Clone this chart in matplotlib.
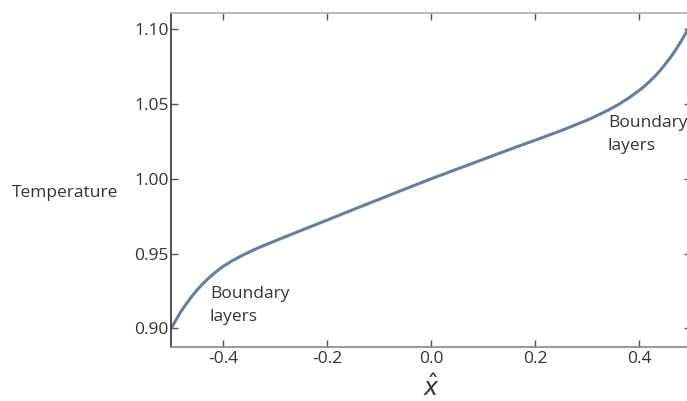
#!/usr/bin/env python3
import matplotlib
matplotlib.use('Agg')
import matplotlib.pyplot as plt

# temperature profile
x_hat = [-0.500, -0.495, -0.490, -0.485, -0.480, -0.470, -0.460, -0.450, -0.440,
         -0.430, -0.420, -0.410, -0.400, -0.380, -0.360, -0.340, -0.320, -0.300,
         -0.250, -0.200, -0.150, -0.100, -0.050, 0.000,
         0.050, 0.100, 0.150, 0.200, 0.250, 0.300, 0.320, 0.340, 0.360, 0.380,
         0.400, 0.410, 0.420, 0.430, 0.440, 0.450, 0.460, 0.470, 0.480, 0.485,
         0.490, 0.495, 0.500]
temperature = [0.9000, 0.9032, 0.9062, 0.9092, 0.9120, 0.9170, 0.9216, 0.9258, 0.9296,
               0.9330, 0.9361, 0.9389, 0.9415, 0.9457, 0.9494, 0.9527, 0.9557, 0.9585,
               0.9655, 0.9724, 0.9794, 0.9863, 0.9932, 1.0000,
               1.0065, 1.0130, 1.0195, 1.0258, 1.0322, 1.0392, 1.0424, 1.0458, 1.0496, 1.0540,
               1.0590, 1.0618, 1.0650, 1.0684, 1.0722, 1.0765, 1.0810, 1.0860, 1.0915, 1.0945,
               1.0976, 1.1008, 1.1042]

x_ticks = [-0.4, -0.2, 0.0, 0.2, 0.4]
y_ticks = [0.90, 0.95, 1.00, 1.05, 1.10]

plt.rcParams['font.family'] = ['Open Sans', 'DejaVu Sans']

fig = plt.figure(figsize=(6.87, 4.01), dpi=100)
ax = fig.add_axes([0.2494, 0.1354, 0.7565, 0.8334])

ax.plot(x_hat, temperature, color='#62809d', linewidth=2.2, solid_capstyle='round')

ax.set_xlim(-0.5, 0.5)
ax.set_ylim(0.8877, 1.1112)
ax.set_xticks(x_ticks)
ax.set_yticks(y_ticks)
ax.set_xticklabels([f'{t:.1f}' for t in x_ticks])
ax.set_yticklabels([f'{t:.2f}' for t in y_ticks])

ax.tick_params(direction='in', top=True, right=True, length=5, width=1,
               color='#555555', labelsize=12.5, labelcolor='#333333')
ax.tick_params(axis='y', pad=2)
ax.tick_params(axis='x', pad=3)

ax.spines['left'].set_color('#333333')
ax.spines['bottom'].set_color('#888888')
ax.spines['top'].set_color('#aaaaaa')
ax.spines['right'].set_color('#aaaaaa')
for s in ax.spines.values():
    s.set_linewidth(1.2)

# y label sits horizontally to the left of the tick labels
fig.text(12 / 687, 1 - 193 / 401, 'Temperature', fontsize=12.5, color='#333333',
         ha='left', va='center')
fig.text(431 / 687, 1 - 389 / 401, r'$\hat{x}$', fontsize=17, color='#333333',
         ha='center', va='center')

ax.text(-0.426, 0.9285, 'Boundary\nlayers', fontsize=12.5, color='#333333',
        ha='left', va='top', linespacing=1.6)
# nudged a few px left so the word stays inside the figure
ax.text(0.340, 1.0425, 'Boundary\nlayers', fontsize=12.5, color='#333333',
        ha='left', va='top', linespacing=1.6)

fig.savefig('out.png', dpi=100)
